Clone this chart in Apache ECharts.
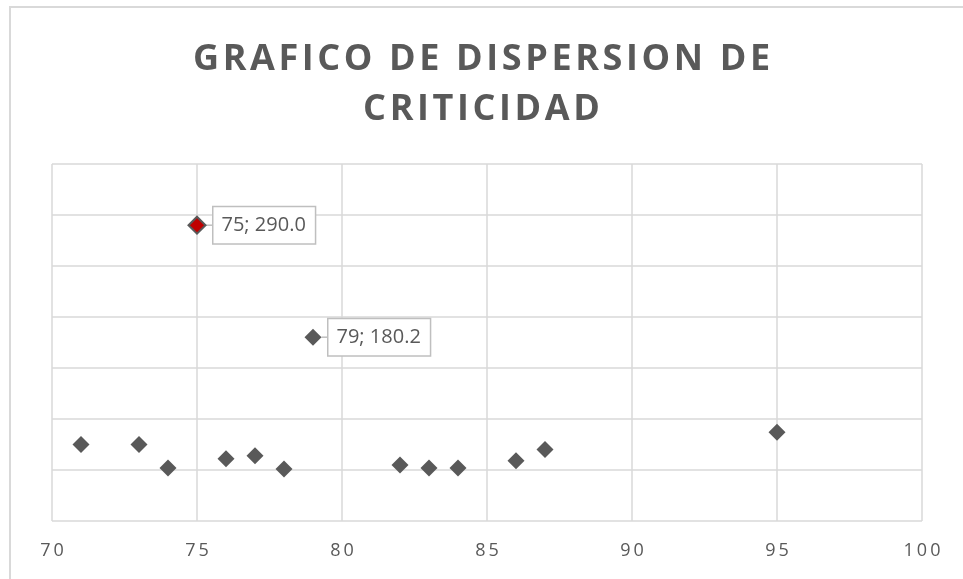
<!DOCTYPE html>
<html>
<head>
<meta charset="utf-8">
<script src="https://cdn.jsdelivr.net/npm/echarts@6/dist/echarts.min.js"></script>
<style>
    html, body { margin: 0; padding: 0; background: #fff; }
    #chartBox { width: 963px; height: 579px; }
    #frame { position: absolute; left: 9px; top: 6px; width: 960px; height: 580px;
             border-left: 2px solid #d9d9d9; border-top: 2px solid #d9d9d9; pointer-events: none; }
</style>
</head>
<body>
<div id="chartBox"></div>
<div id="frame"></div>
<script>
// datos del grafico de dispersion
const xValues = [71, 73, 74, 75, 76, 77, 78, 79, 82, 83, 84, 86, 87, 95];
const yValues = [75, 75, 52, 290.0, 61, 64, 51, 180.2, 55, 52, 52, 59, 70, 87];
const labeledX = [75, 79];       // puntos con etiqueta
const highlightX = [75];         // punto en rojo
const xTicks = [70, 75, 80, 85, 90, 95, 100];
const titleLines = ['GRAFICO DE DISPERSION DE', 'CRITICIDAD'];

const gray = '#595959';
const gridGray = '#d9d9d9';

let points = xValues.map((x, i) => {
    let item = { value: [x, yValues[i]] };
    if (highlightX.indexOf(x) >= 0) {
        item.itemStyle = { color: '#c00000', borderColor: gray, borderWidth: 2 };
    }
    if (labeledX.indexOf(x) >= 0) {
        item.label = { show: true };
        item.labelLine = { show: true };
    }
    return item;
});

// espaciado entre letras (como en el original)
const spaced = (s, sp) => String(s).split('').join(sp || '\u2009');

let option = {
    animation: false,
    title: {
        text: titleLines.map(t => spaced(t, '\u200a')).join('\n'),
        left: 'center',
        top: 30,
        textStyle: {
            fontFamily: 'Open Sans',
            fontWeight: 'bold',
            fontSize: 36,
            lineHeight: 50,
            color: gray
        }
    },
    grid: { left: 52, right: 41, top: 164, bottom: 58 },
    xAxis: {
        type: 'value',
        min: xTicks[0],
        max: xTicks[xTicks.length - 1],
        interval: 5,
        axisLine: { show: false },
        axisTick: { show: false },
        splitLine: { lineStyle: { color: gridGray, width: 1.5 } },
        axisLabel: {
            color: gray,
            fontFamily: 'Open Sans',
            fontSize: 18,
            margin: 21,
            formatter: (v) => spaced(v)
        }
    },
    yAxis: {
        type: 'value',
        min: 0,
        max: 350,
        interval: 50,
        axisLine: { show: false },
        axisTick: { show: false },
        axisLabel: { show: false },
        splitLine: { lineStyle: { color: gridGray, width: 1.5 } }
    },
    series: [{
        type: 'scatter',
        symbol: 'diamond',
        symbolSize: 17,
        itemStyle: { color: gray, opacity: 1 },
        data: points,
        label: {
            show: false,
            position: 'right',
            distance: 3,
            formatter: (p) => p.value[0] + '; ' + p.value[1].toFixed(1),
            fontFamily: 'Open Sans',
            fontSize: 20,
            lineHeight: 24,
            color: gray,
            backgroundColor: '#fff',
            borderColor: '#bfbfbf',
            borderWidth: 1.5,
            padding: [6, 9, 6, 8]
        },
        labelLine: {
            show: false,
            lineStyle: { color: '#bfbfbf', width: 1.5 }
        },
        labelLayout: { dx: 4, dy: 0 }
    }]
};

let myChart = echarts.init(document.getElementById('chartBox'));
myChart.setOption(option);
</script>
</body>
</html>
